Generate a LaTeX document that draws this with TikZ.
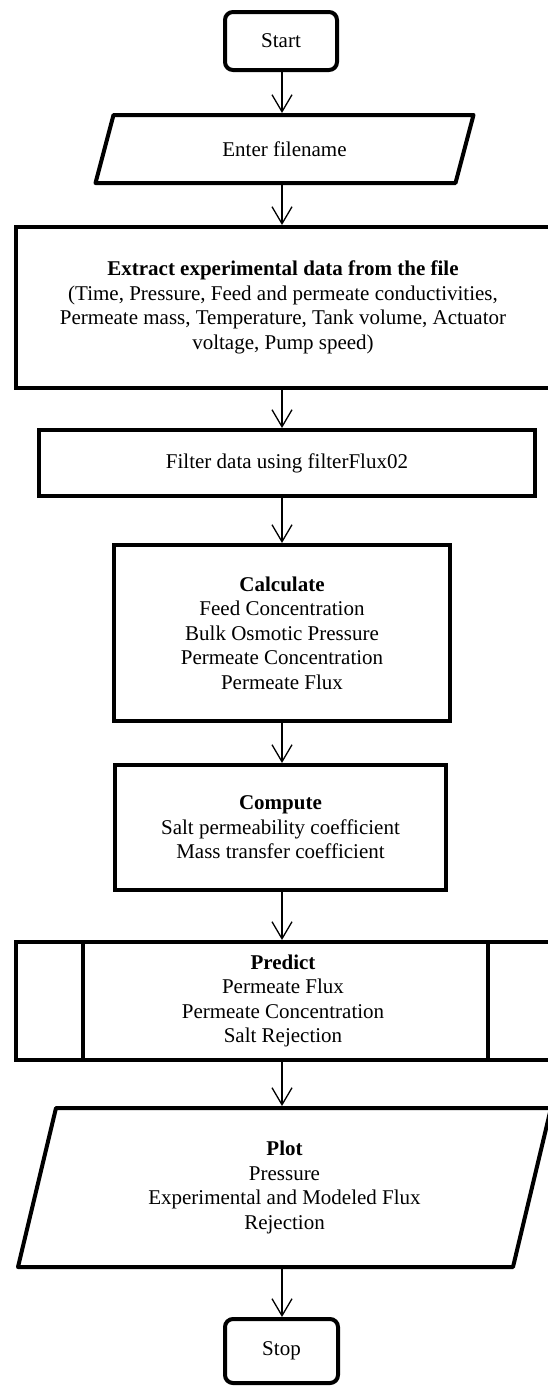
\documentclass[tikz,border=0pt]{standalone}
\usepackage{fontspec}
\setmainfont{Liberation Serif}
\usetikzlibrary{arrows.meta,calc}
\begin{document}
\begin{tikzpicture}[x=1pt,y=-1pt,
  txt/.style={font=\fontsize{21}{24.5}\selectfont, align=center, inner sep=0pt, outer sep=0pt},
  frame/.style={txt, draw, line width=4pt, rectangle},
  term/.style={frame, rounded corners=8pt},
  ghost/.style={txt, rectangle},
  edge/.style={line width=4pt, line join=round},
  flow/.style={line width=1.3pt, shorten >=2pt, -{Straight Barb[length=17pt,width=20pt,line width=1.3pt]}}]
\clip (0,0) rectangle (548,1387);
\fill[white] (0,0) rectangle (548,1387);
\coordinate (col) at (282,0);

\node[term, minimum width=112pt, minimum height=58pt] (start) at (281,41) {Start};

\node[ghost, minimum width=360pt, minimum height=68pt] (enter) at (284.5,149) {Enter filename};
\draw[edge] ([xshift=9pt]enter.north west) -- ([xshift=9pt]enter.north east)
  -- ([xshift=-9pt]enter.south east) -- ([xshift=-9pt]enter.south west) -- cycle;

\node[frame, minimum width=534pt, minimum height=161pt] (extract) at (283,307.5)
  {\textbf{Extract experimental data from the file}\\
   (Time, Pressure, Feed and permeate conductivities,\\
   Permeate mass, Temperature, Tank volume, Actuator\\
   voltage, Pump speed)};

\node[frame, minimum width=496pt, minimum height=66pt] (filter) at (287,463) {Filter data using filterFlux02};

\node[frame, minimum width=336pt, minimum height=176pt] (calc) at (282,633)
  {\textbf{Calculate}\\ Feed Concentration\\ Bulk Osmotic Pressure\\ Permeate Concentration\\ Permeate Flux};

\node[frame, minimum width=331pt, minimum height=125pt] (compute) at (280.5,827.5)
  {\textbf{Compute}\\ Salt permeability coefficient\\ Mass transfer coefficient};

\node[frame, minimum width=534pt, minimum height=118pt] (predict) at (283,1001)
  {\textbf{Predict}\\ Permeate Flux\\ Permeate Concentration\\ Salt Rejection};
\draw[edge] ([xshift=67pt]predict.north west) -- ([xshift=67pt]predict.south west);
\draw[edge] ([xshift=-62pt]predict.north east) -- ([xshift=-62pt]predict.south east);

\node[ghost, minimum width=495pt, minimum height=159pt] (plot) at (284.5,1187.5)
  {\textbf{Plot}\\ Pressure\\ Experimental and Modeled Flux\\ Rejection};
\draw[edge] ([xshift=19pt]plot.north west) -- ([xshift=19pt]plot.north east)
  -- ([xshift=-19pt]plot.south east) -- ([xshift=-19pt]plot.south west) -- cycle;

\node[term, minimum width=113pt, minimum height=64pt] (stop) at (281.5,1351) {Stop};

\draw[flow] (start.south -| col) -- (enter.north -| col);
\draw[flow] (enter.south -| col) -- (extract.north -| col);
\draw[flow] (extract.south -| col) -- (filter.north -| col);
\draw[flow] (filter.south -| col) -- (calc.north -| col);
\draw[flow] (calc.south -| col) -- (compute.north -| col);
\draw[flow] (compute.south -| col) -- (predict.north -| col);
\draw[flow] (predict.south -| col) -- (plot.north -| col);
\draw[flow] (plot.south -| col) -- (stop.north -| col);
\end{tikzpicture}
\end{document}
